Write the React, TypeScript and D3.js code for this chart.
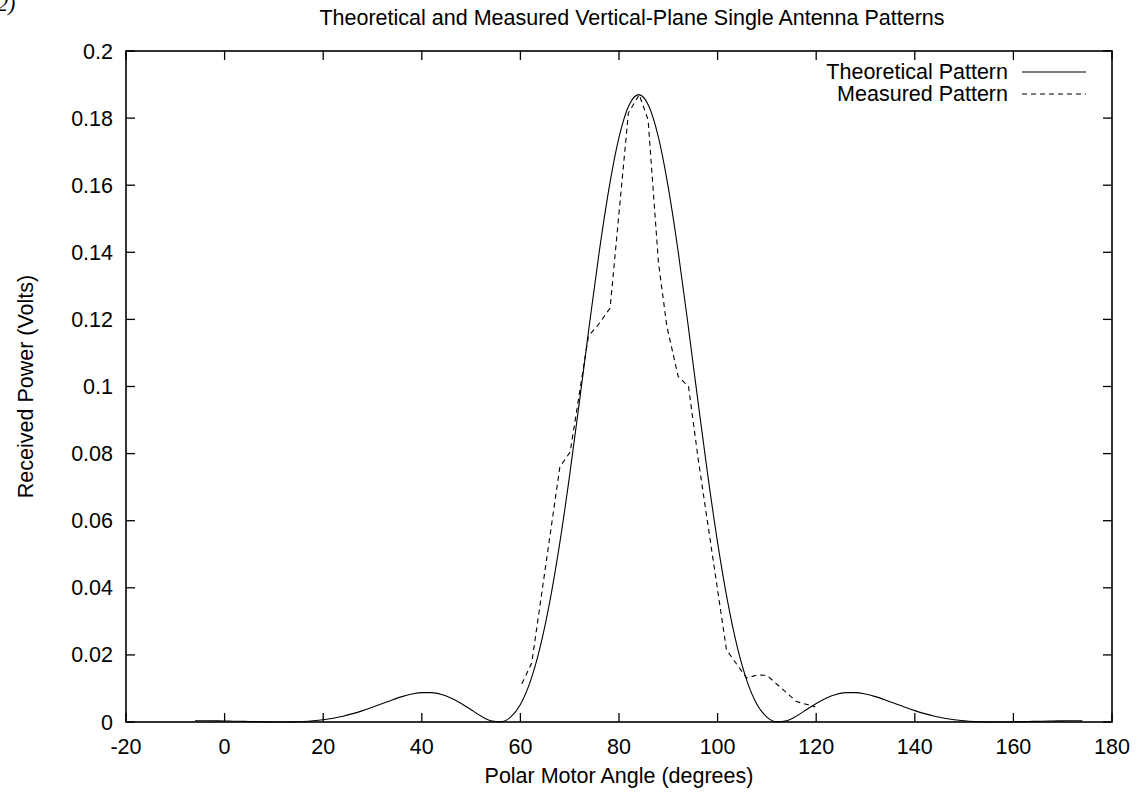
import React from "react";
import * as d3 from "d3";

// Theoretical pattern: angle (deg) and received power (V)
const thAngles: number[] = [
  -6, -4, -2, 0, 2, 4, 6, 8, 10, 12, 14, 16, 18, 20, 22, 24, 26, 28, 30, 32, 34, 36, 38, 40, 42,
  44, 46, 48, 50, 52, 54, 56, 58, 60, 62, 64, 66, 68, 70, 72, 74, 76, 78, 80, 82, 84, 86, 88, 90,
  92, 94, 96, 98, 100, 102, 104, 106, 108, 110, 112, 114, 116, 118, 120, 122, 124, 126, 128, 130,
  132, 134, 136, 138, 140, 142, 144, 146, 148, 150, 152, 154, 156, 158, 160, 162, 164, 166, 168,
  170, 172, 174,
];
const thValues: number[] = [
  0.00038, 0.00037, 0.00034, 0.0003, 0.00024, 0.00018, 0.00011, 0.00005, 0.00001, 0.0, 0.00005,
  0.00016, 0.00037, 0.00069, 0.00114, 0.00174, 0.00249, 0.00339, 0.00441, 0.00549, 0.00658,
  0.00756, 0.00833, 0.00877, 0.00876, 0.00821, 0.00711, 0.00553, 0.00365, 0.00178, 0.00039,
  0.00005, 0.00144, 0.00522, 0.01203, 0.02231, 0.03618, 0.05347, 0.07368, 0.09578, 0.11847,
  0.14024, 0.15927, 0.17423, 0.18373, 0.187, 0.18373, 0.17423, 0.15927, 0.14024, 0.11847,
  0.09578, 0.07368, 0.05347, 0.03618, 0.02231, 0.01203, 0.00522, 0.00144, 0.00005, 0.00039,
  0.00178, 0.00365, 0.00553, 0.00711, 0.00821, 0.00876, 0.00877, 0.00833, 0.00756, 0.00658,
  0.00549, 0.00441, 0.00339, 0.00249, 0.00174, 0.00114, 0.00069, 0.00037, 0.00016, 0.00005, 0.0,
  0.00001, 0.00005, 0.00011, 0.00018, 0.00024, 0.0003, 0.00034, 0.00037, 0.00038,
];

// Measured pattern
const msAngles: number[] = [
  60.3, 62.3, 68.0, 70.1, 72.4, 73.8, 75.8, 78.2, 81.9, 84.1, 85.9, 88.0, 89.7, 92.0, 94.1, 96.1,
  101.8, 105.9, 108.0, 110.0, 116.0, 119.8,
];
const msValues: number[] = [
  0.0114, 0.0176, 0.076, 0.0805, 0.102, 0.115, 0.1184, 0.1234, 0.1815, 0.187, 0.1795, 0.137,
  0.118, 0.103, 0.1, 0.078, 0.0215, 0.0131, 0.014, 0.0139, 0.0061, 0.0045,
];

const xTicks: number[] = [-20, 0, 20, 40, 60, 80, 100, 120, 140, 160, 180];
const yTicks: number[] = [0, 0.02, 0.04, 0.06, 0.08, 0.1, 0.12, 0.14, 0.16, 0.18, 0.2];
const yTickLabels: string[] = ["0", "0.02", "0.04", "0.06", "0.08", "0.1", "0.12", "0.14", "0.16", "0.18", "0.2"];

const seriesNames: string[] = ["Theoretical Pattern", "Measured Pattern"];

const W = 1142;
const H = 797;
const L = 126;
const R = 1112;
const T = 51;
const B = 722;
const FONT = "'Liberation Sans', Arial, Helvetica, sans-serif";
const FS = 21.5;

export default function App() {
  const x = d3.scaleLinear().domain([-20, 180]).range([L, R]);
  const y = d3.scaleLinear().domain([0, 0.2]).range([B, T]);

  const thData: [number, number][] = thAngles.map((a, i) => [a, thValues[i]]);
  const msData: [number, number][] = msAngles.map((a, i) => [a, msValues[i]]);

  const thPath =
    d3
      .line<[number, number]>()
      .x((d) => x(d[0]))
      .y((d) => y(d[1]))
      .curve(d3.curveMonotoneX)(thData) || "";
  const msPath =
    d3
      .line<[number, number]>()
      .x((d) => x(d[0]))
      .y((d) => y(d[1]))(msData) || "";

  const tickLen = 9;

  return (
    <svg
      width={W}
      height={H}
      style={{ position: "absolute", left: 0, top: 0, background: "#fff" }}
      fontFamily={FONT}
    >
      <rect x={0} y={0} width={W} height={H} fill="#fff" />
      <text x={-3} y={11} fontFamily="'Liberation Serif', serif" fontStyle="italic" fontSize={22}>
        2)
      </text>
      <text x={632} y={25} textAnchor="middle" fontSize={FS}>
        Theoretical and Measured Vertical-Plane Single Antenna Patterns
      </text>

      {/* ticks */}
      {xTicks.map((t) => (
        <g key={"xt" + t}>
          <line x1={x(t)} x2={x(t)} y1={B} y2={B - tickLen} stroke="#000" strokeWidth={1.3} />
          <line x1={x(t)} x2={x(t)} y1={T} y2={T + tickLen} stroke="#000" strokeWidth={1.3} />
          <text x={x(t)} y={754} textAnchor="middle" fontSize={FS}>
            {t}
          </text>
        </g>
      ))}
      {yTicks.map((t, i) => (
        <g key={"yt" + i}>
          <line x1={L} x2={L + tickLen} y1={y(t)} y2={y(t)} stroke="#000" strokeWidth={1.3} />
          <line x1={R} x2={R - tickLen} y1={y(t)} y2={y(t)} stroke="#000" strokeWidth={1.3} />
          <text x={113} y={y(t) + 7.5} textAnchor="end" fontSize={FS}>
            {yTickLabels[i]}
          </text>
        </g>
      ))}

      {/* curves */}
      <path d={thPath} fill="none" stroke="#000" strokeWidth={1.1} />
      <path d={msPath} fill="none" stroke="#000" strokeWidth={1.1} strokeDasharray="5,4" />

      {/* border */}
      <rect x={L} y={T} width={R - L} height={B - T} fill="none" stroke="#000" strokeWidth={1.6} />

      {/* legend */}
      <text x={1008} y={78.5} textAnchor="end" fontSize={FS}>
        {seriesNames[0]}
      </text>
      <line x1={1022} x2={1086} y1={72} y2={72} stroke="#000" strokeWidth={1.1} />
      <text x={1008} y={101} textAnchor="end" fontSize={FS}>
        {seriesNames[1]}
      </text>
      <line x1={1022} x2={1086} y1={94} y2={94} stroke="#000" strokeWidth={1.1} strokeDasharray="5,4" />

      {/* axis labels */}
      <text x={619} y={783} textAnchor="middle" fontSize={FS}>
        Polar Motor Angle (degrees)
      </text>
      <text
        transform={`translate(33, ${(T + B) / 2}) rotate(-90)`}
        textAnchor="middle"
        fontSize={FS}
      >
        Received Power (Volts)
      </text>
    </svg>
  );
}
